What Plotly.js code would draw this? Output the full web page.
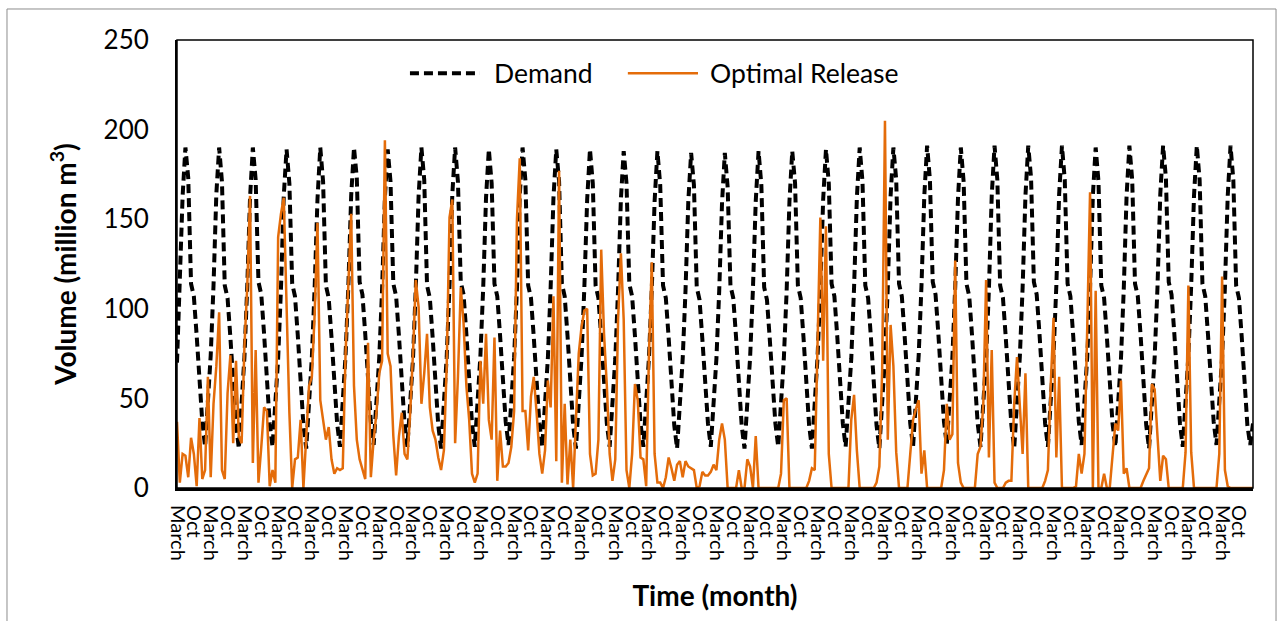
<!DOCTYPE html>
<html>
<head>
<meta charset="utf-8">
<script src="https://cdn.plot.ly/plotly-3.0.1.min.js"></script>
<style>
  html, body { margin: 0; padding: 0; background: #ffffff; }
  #chart { width: 1282px; height: 621px; }
</style>
</head>
<body>
<div id="chart"></div>
<script>
// Demand (million m3), one row per year, 12 monthly values starting in March
const demandByYear = [
  [70,112,163,190,173,114,107,85,58,37,23,46],
  [74,113,164,190,171,113,106,84,57,36,22,45],
  [73,112,162,190,172,115,108,86,59,36,23,47],
  [72,111,163,189,170,114,107,85,58,35,22,46],
  [73,112,161,190,171,113,106,84,57,36,23,45],
  [74,113,163,190,173,115,108,86,59,37,24,46],
  [73,111,162,189,171,114,107,85,58,36,23,45],
  [72,112,163,190,172,113,106,84,57,35,22,46],
  [73,113,164,190,171,115,108,86,59,36,23,47],
  [74,112,162,189,170,114,107,85,58,37,24,46],
  [73,111,163,190,172,113,106,84,57,36,23,45],
  [72,112,162,189,171,114,107,85,58,35,22,46],
  [73,112,161,189,170,113,106,84,57,36,23,45],
  [72,111,161,188,170,114,107,85,58,36,23,46],
  [73,111,160,188,169,113,106,84,57,35,22,45],
  [72,110,160,187,169,112,105,83,56,36,23,46],
  [72,110,159,187,168,113,106,84,57,35,22,45],
  [73,111,160,188,169,112,105,83,56,36,23,46],
  [72,110,160,188,170,113,106,84,57,35,22,45],
  [73,111,161,189,170,114,107,85,58,36,23,46],
  [72,112,162,190,171,113,106,84,57,35,22,45],
  [73,112,163,190,172,114,107,85,58,36,23,46],
  [74,113,163,191,172,115,108,86,59,37,24,47],
  [73,112,162,190,171,114,107,85,58,36,23,46],
  [72,111,163,191,172,113,106,84,57,35,22,45],
  [73,112,163,191,173,115,108,86,59,36,23,46],
  [74,113,164,191,172,114,107,85,58,37,24,47],
  [73,112,163,190,171,113,106,84,57,36,23,46],
  [72,111,163,191,172,114,107,85,58,35,22,45],
  [73,112,164,191,173,115,108,86,59,36,23,46],
  [74,113,163,191,172,114,107,85,58,37,24,47],
  [73,112,163,191,172,113,106,84,57,35,24,36]
];

// Optimal release (million m3), one row per year, 12 monthly values starting in March
const releaseByYear = [
  [37,3,19,18,6,28,19,1,39,5,10,62],
  [6,47,68,98,10,5,53,74,25,71,29,25],
  [79,112,163,14,77,3,23,45,43,1,10,3],
  [140,153,162,94,42,0,16,17,38,0,27,57],
  [62,97,148,49,38,27,34,16,8,11,10,11],
  [75,116,153,57,27,16,10,5,81,6,27,42],
  [64,71,194,75,68,29,7,29,42,19,16,42],
  [75,116,101,47,64,86,45,32,27,17,10,21],
  [68,151,161,25,62,112,92,57,38,8,3,8],
  [71,47,86,38,27,84,4,32,12,12,14,23],
  [43,150,184,43,43,21,51,62,42,19,8,21],
  [60,45,107,15,177,3,47,2,27,0,38,75],
  [90,99,100,19,7,8,27,133,86,57,19,4],
  [16,94,131,94,10,0,19,58,49,17,16,1],
  [75,126,19,3,3,0,6,17,11,4,13,15],
  [6,15,12,11,10,0,1,9,7,7,9,13],
  [10,27,36,27,0,0,0,0,10,0,0,16],
  [12,0,29,0,0,0,0,0,0,0,0,8],
  [49,50,0,0,0,0,0,0,0,4,11,10],
  [75,151,71,146,19,0,0,0,0,0,0,0],
  [38,52,21,0,0,0,0,0,0,3,12,66],
  [205,27,91,68,20,0,0,0,0,19,38,44],
  [49,8,21,0,0,0,0,0,0,10,47,27],
  [30,127,14,3,0,0,0,0,0,19,23,47],
  [116,17,77,3,0,0,0,3,4,4,47,73],
  [49,19,64,0,0,0,0,0,0,4,10,57],
  [95,17,62,0,0,0,0,0,1,19,8,19],
  [90,165,0,110,0,0,8,0,0,19,36,32],
  [60,8,11,0,0,0,0,0,4,8,11,58],
  [55,29,4,18,16,0,0,0,0,0,0,20],
  [113,20,0,0,0,0,0,0,0,0,0,19],
  [118,10,1,0,0,0,0,0,0,0,0,0]
];

// Axis tick labels (every 6 months)
const halfYearLabels = ["March", "Oct"];
const seriesNames = ["Demand", "Optimal Release"];
const yTickValues = [0, 50, 100, 150, 200, 250];

const demand = demandByYear.flat();
const release = releaseByYear.flat();
const months = demand.map((_, i) => i);
const tickVals = [], tickText = [];
for (let i = 0; i < months.length; i += 6) {
  tickVals.push(i);
  tickText.push(halfYearLabels[(i / 6) % 2]);
}

const FONT = "Lato, 'Open Sans', sans-serif";
const orange = "#E46C0A";

const traces = [
  { x: months, y: demand, type: "scatter", mode: "lines", name: seriesNames[0],
    line: { color: "#000000", width: 4, dash: "9px,5px" }, showlegend: false },
  { x: months, y: release, type: "scatter", mode: "lines", name: seriesNames[1],
    line: { color: orange, width: 2.5 }, showlegend: false }
];

const layout = {
  width: 1282, height: 621,
  paper_bgcolor: "#ffffff", plot_bgcolor: "#ffffff",
  margin: { l: 177, r: 29, t: 40, b: 133 },
  font: { family: FONT, color: "#000000" },
  showlegend: false,
  xaxis: {
    range: [0, months.length - 1],
    tickmode: "array", tickvals: tickVals, ticktext: tickText,
    tickangle: 90, ticks: "", ticklabelstandoff: 10,
    tickfont: { family: FONT, size: 20, color: "#000" },
    showgrid: false, zeroline: false, showline: true, linecolor: "#000", linewidth: 3,
    automargin: true,
    title: { text: "<b>Time (month)</b>", font: { family: FONT, size: 28, color: "#000" }, standoff: 27 }
  },
  yaxis: {
    range: [0, 250], tickmode: "array", tickvals: yTickValues,
    ticks: "", ticklabelstandoff: 21,
    tickfont: { family: FONT, size: 26, color: "#000" },
    showgrid: false, zeroline: false, showline: true, linecolor: "#000", linewidth: 2,
    automargin: true,
    title: { text: "<b>Volume (million m<sup>3</sup>)</b>", font: { family: FONT, size: 28, color: "#000" }, standoff: 19 }
  },
  shapes: [
    { type: "rect", xref: "paper", yref: "paper", x0: 0, x1: 1, y0: 0, y1: 1,
      line: { color: "#000", width: 1.5 }, fillcolor: "rgba(0,0,0,0)" },
    { type: "rect", xref: "paper", yref: "paper", x0: -0.158, x1: 1.0214, y0: -0.35, y1: 1.0692,
      line: { color: "#8c8c8c", width: 1 }, fillcolor: "rgba(0,0,0,0)" },
    { type: "line", xref: "paper", yref: "paper", x0: 0.2165, x1: 0.2816, y0: 0.926, y1: 0.926,
      line: { color: "#000", width: 4, dash: "9px,5px" } },
    { type: "line", xref: "paper", yref: "paper", x0: 0.419, x1: 0.4842, y0: 0.926, y1: 0.926,
      line: { color: orange, width: 2.5 } }
  ],
  annotations: [
    { xref: "paper", yref: "paper", x: 0.2928, y: 0.926, xanchor: "left", yanchor: "middle",
      text: seriesNames[0], showarrow: false, font: { family: FONT, size: 26.5, color: "#000" } },
    { xref: "paper", yref: "paper", x: 0.4935, y: 0.926, xanchor: "left", yanchor: "middle",
      text: seriesNames[1], showarrow: false, font: { family: FONT, size: 26.5, color: "#000" } }
  ]
};

Plotly.newPlot("chart", traces, layout, { staticPlot: true, displayModeBar: false });
</script>
</body>
</html>
